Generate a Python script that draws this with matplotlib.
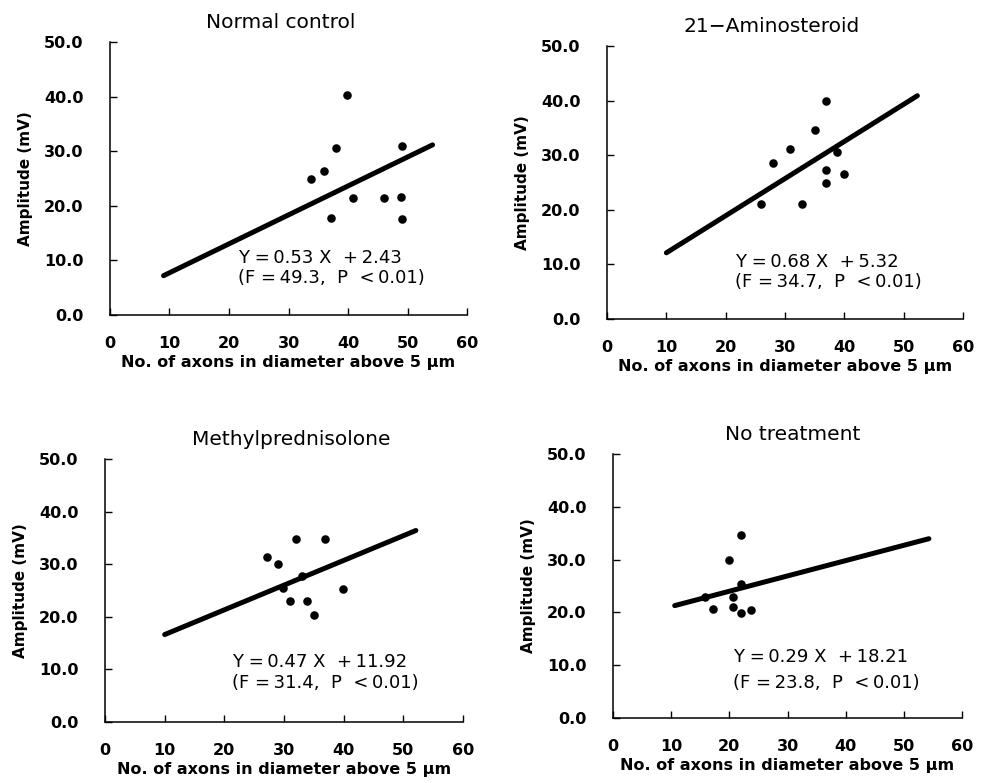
import matplotlib
matplotlib.use("Agg")
import matplotlib.pyplot as plt
import numpy as np

plt.rcParams["font.family"] = ["DejaVu Sans"]

# --- data ---------------------------------------------------------------
titles = ["Normal control", "21\u2212Aminosteroid", "Methylprednisolone", "No treatment"]

normal_x = [39.8, 37.9, 49.0, 33.7, 36.0, 40.9, 46.0, 48.9, 37.2, 49.0]
normal_y = [40.2, 30.6, 30.9, 24.9, 26.3, 21.5, 21.5, 21.7, 17.7, 17.6]

amino_x = [36.9, 35.1, 30.9, 28.0, 38.8, 36.9, 39.9, 36.9, 26.0, 32.9]
amino_y = [40.0, 34.6, 31.1, 28.5, 30.5, 27.3, 26.5, 24.9, 21.0, 21.0]

methyl_x = [32.0, 36.9, 27.2, 29.0, 33.1, 29.8, 39.9, 31.0, 33.9, 35.0]
methyl_y = [34.8, 34.7, 31.3, 30.1, 27.8, 25.4, 25.3, 23.0, 23.0, 20.4]

notreat_x = [22.0, 20.0, 22.0, 15.8, 20.7, 17.1, 20.7, 22.0, 23.8]
notreat_y = [34.7, 30.0, 25.4, 23.0, 23.0, 20.6, 21.1, 19.9, 20.4]

slopes = [0.53, 0.68, 0.47, 0.29]
intercepts = [2.43, 5.32, 11.92, 18.21]
f_values = [49.3, 34.7, 31.4, 23.8]
line_x_start = [9.0, 10.0, 10.0, 10.6]
line_x_end = [54.2, 52.3, 52.1, 54.3]

xs = [normal_x, amino_x, methyl_x, notreat_x]
ys = [normal_y, amino_y, methyl_y, notreat_y]

x_ticks = [0, 10, 20, 30, 40, 50, 60]
y_ticks = [0, 10, 20, 30, 40, 50]

# axes rectangles in figure fractions (left, bottom, width, height)
rects = [
    (0.1121, 0.5977, 0.3640, 0.3487),
    (0.6188, 0.5926, 0.3629, 0.3487),
    (0.1070, 0.0779, 0.3650, 0.3359),
    (0.6249, 0.0830, 0.3558, 0.3372),
]
title_x = [0.479, 0.461, 0.52, 0.516]
eq_pos = [(21.5, 10.4, 6.7), (21.6, 10.4, 6.7), (21.3, 11.4, 7.4), (20.6, 11.5, 6.6)]

fig = plt.figure(figsize=(9.81, 7.83), dpi=100)

for i in range(4):
    ax = fig.add_axes(rects[i])
    ax.scatter(xs[i], ys[i], s=38, color="black", zorder=3, linewidths=0)
    lx = np.array([line_x_start[i], line_x_end[i]])
    ax.plot(lx, slopes[i] * lx + intercepts[i], color="black", lw=3.6,
            solid_capstyle="round", zorder=2)

    ax.set_xlim(0, 60)
    ax.set_ylim(0, 50)
    ax.set_xticks(x_ticks)
    ax.set_yticks(y_ticks)
    ax.set_xticklabels([str(t) for t in x_ticks], fontsize=11.5, fontweight="bold")
    ax.set_yticklabels([f"{t:.1f}" for t in y_ticks], fontsize=11.5, fontweight="bold")
    ax.tick_params(axis="x", direction="in", length=5, width=1, pad=15)
    ax.tick_params(axis="y", direction="in", length=5, width=1, pad=19)
    for s in ("top", "right"):
        ax.spines[s].set_visible(False)
    for s in ("left", "bottom"):
        ax.spines[s].set_linewidth(1.1)

    ax.set_xlabel("No. of axons in diameter above 5 \u03bcm", fontsize=11.5,
                  fontweight="bold", labelpad=3)
    ax.set_ylabel("Amplitude (mV)", fontsize=11, fontweight="bold", labelpad=8)
    ax.set_title(titles[i], fontsize=14.5, pad=10, x=title_x[i])

    ex, ey1, ey2 = eq_pos[i]
    ax.text(ex, ey1, f"Y =\u2009{slopes[i]:.2f} X  +\u2009{intercepts[i]:.2f}",
            fontsize=13, ha="left", va="center")
    ax.text(ex, ey2, f"(F =\u2009{f_values[i]:.1f},  P  <\u20090.01)",
            fontsize=13, ha="left", va="center")

fig.savefig("out.png", dpi=100, facecolor="white")
